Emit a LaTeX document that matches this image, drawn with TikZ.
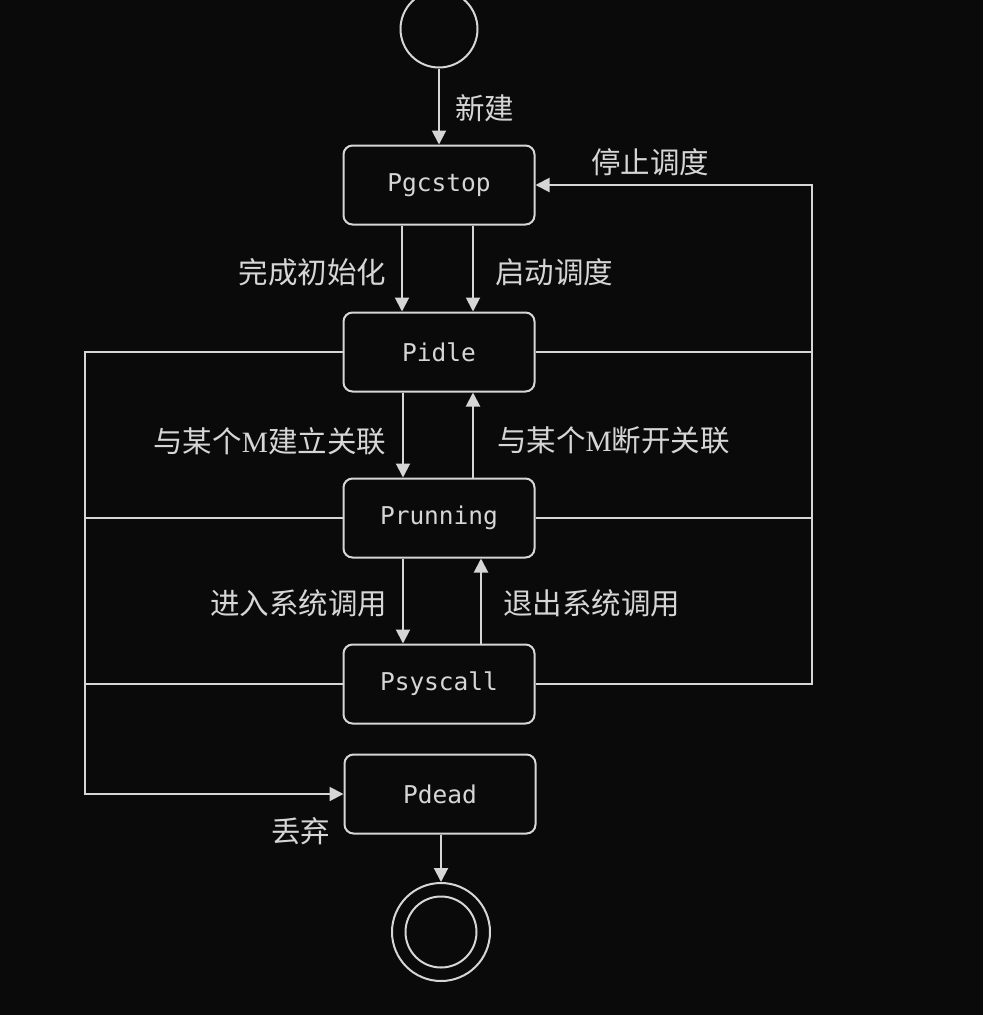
\documentclass[tikz,border=0pt]{standalone}
\usepackage{fontspec}
\newfontfamily\cjk{Noto Sans CJK SC}
\newfontfamily\monof{DejaVu Sans Mono}
\newfontfamily\serifM{Liberation Serif}
\usetikzlibrary{arrows.meta}
\definecolor{bg}{HTML}{0A0A0A}
\definecolor{fg}{HTML}{D6D6D6}
\begin{document}
\begin{tikzpicture}[x=1pt,y=-1pt,
  line width=2pt,
  state/.style={draw=fg, rounded corners=9pt, minimum width=191pt, minimum height=79pt, inner sep=0pt,
    text=fg, font=\monof\fontsize{24.5}{28}\selectfont},
  arr/.style={draw=fg, -{Triangle[width=14pt,length=14pt]}},
  lin/.style={draw=fg},
  lbl/.style={text=fg, inner sep=0pt, font=\cjk\fontsize{29.5}{32}\selectfont}]
\useasboundingbox[fill=bg] (0,0) rectangle (983,1015);
% states
\node[draw=fg, circle, minimum size=77pt, inner sep=0pt] (start) at (439,29) {};
\node[state] (pg) at (439,185) {Pgcstop};
\node[state] (pi) at (439,352) {Pidle};
\node[state] (pr) at (439,518) {Prunning};
\node[state] (ps) at (439,684) {Psyscall};
\node[state] (pd) at (440,794) {Pdead};
\node[draw=fg, circle, minimum size=98pt, inner sep=0pt] (endo) at (441,932) {};
\node[draw=fg, circle, minimum size=71pt, inner sep=0pt] (endi) at (441,932) {};
% helper coordinates
\coordinate (rTop) at (812,185);
\coordinate (rIdle) at (812,352);
\coordinate (rRun) at (812,518);
\coordinate (rSys) at (812,684);
\coordinate (lIdle) at (85,352);
\coordinate (lRun) at (85,518);
\coordinate (lSys) at (85,684);
\coordinate (lDead) at (85,794);
% connectors
\draw[arr] (start) -- (pg);
\draw[arr] ([xshift=-37pt]pg.south) -- ([xshift=-37pt]pi.north);
\draw[arr] ([xshift=34pt]pg.south) -- ([xshift=34pt]pi.north);
\draw[arr] ([xshift=-36pt]pi.south) -- ([xshift=-36pt]pr.north);
\draw[arr] ([xshift=34pt]pr.north) -- ([xshift=34pt]pi.south);
\draw[arr] ([xshift=-36pt]pr.south) -- ([xshift=-36pt]ps.north);
\draw[arr] ([xshift=42pt]ps.north) -- ([xshift=42pt]pr.south);
\draw[arr] (ps.east) -- (rSys) -- (rTop) -- (pg.east);
\draw[lin] (pi.east) -- (rIdle);
\draw[lin] (pr.east) -- (rRun);
\draw[arr] (pi.west) -- (lIdle) -- (lDead) -- (pd.west);
\draw[lin] (pr.west) -- (lRun);
\draw[lin] (ps.west) -- (lSys);
\draw[arr] (endo.north |- pd.south) -- (endo.north);
% labels
\node[lbl, anchor=west] (l1) at (454,108) {新建};
\node[lbl, anchor=west] (l2) at (590,162) {停止调度};
\node[lbl, anchor=east] (l3) at (387,272) {完成初始化};
\node[lbl, anchor=west] (l4) at (494,272) {启动调度};
\node[lbl, anchor=east] (l5) at (387,441) {与某个{\serifM M}建立关联};
\node[lbl, anchor=west] (l6) at (496,440) {与某个{\serifM M}断开关联};
\node[lbl, anchor=east] (l7) at (388,603) {进入系统调用};
\node[lbl, anchor=west] (l8) at (502,603) {退出系统调用};
\node[lbl, anchor=east] (l9) at (331,831) {丢弃};
\end{tikzpicture}
\end{document}
